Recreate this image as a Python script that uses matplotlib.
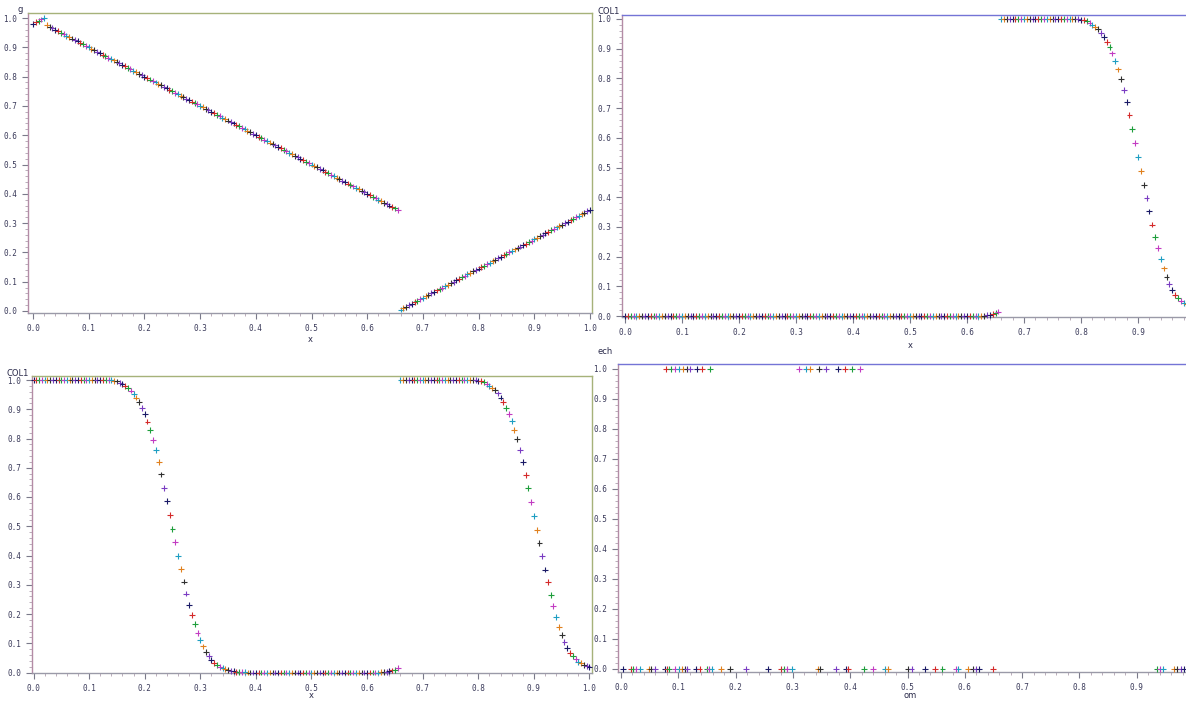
import numpy as np
import matplotlib
matplotlib.use("Agg")
import matplotlib.pyplot as plt
from matplotlib.ticker import MultipleLocator, FormatStrFormatter

# ---------------------------------------------------------------- data
# common sampling grid for the three curves (step 0.005 on [0, 1])
x_grid = np.round(np.arange(201) * 0.005, 3)

g_vals = [
    0.980, 0.985, 0.990, 0.995, 1.000,
    0.975, 0.970, 0.965, 0.960, 0.955, 0.950, 0.945, 0.940, 0.935, 0.930,
    0.925, 0.920, 0.915, 0.910, 0.905, 0.900, 0.895, 0.890, 0.885, 0.880,
    0.875, 0.870, 0.865, 0.860, 0.855, 0.850, 0.845, 0.840, 0.835, 0.830,
    0.825, 0.820, 0.815, 0.810, 0.805, 0.800, 0.795, 0.790, 0.785, 0.780,
    0.775, 0.770, 0.765, 0.760, 0.755, 0.750, 0.745, 0.740, 0.735, 0.730,
    0.725, 0.720, 0.715, 0.710, 0.705, 0.700, 0.695, 0.690, 0.685, 0.680,
    0.675, 0.670, 0.665, 0.660, 0.655, 0.650, 0.645, 0.640, 0.635, 0.630,
    0.625, 0.620, 0.615, 0.610, 0.605, 0.600, 0.595, 0.590, 0.585, 0.580,
    0.575, 0.570, 0.565, 0.560, 0.555, 0.550, 0.545, 0.540, 0.535, 0.530,
    0.525, 0.520, 0.515, 0.510, 0.505, 0.500, 0.495, 0.490, 0.485, 0.480,
    0.475, 0.470, 0.465, 0.460, 0.455, 0.450, 0.445, 0.440, 0.435, 0.430,
    0.425, 0.420, 0.415, 0.410, 0.405, 0.400, 0.395, 0.390, 0.385, 0.380,
    0.375, 0.370, 0.365, 0.360, 0.355, 0.350, 0.345,
    0.005, 0.010, 0.015, 0.020, 0.025, 0.030, 0.035, 0.040, 0.045, 0.050,
    0.055, 0.060, 0.065, 0.070, 0.075, 0.080, 0.085, 0.090, 0.095, 0.100,
    0.105, 0.110, 0.115, 0.120, 0.125, 0.130, 0.135, 0.140, 0.145, 0.150,
    0.155, 0.160, 0.165, 0.170, 0.175, 0.180, 0.185, 0.190, 0.195, 0.200,
    0.205, 0.210, 0.215, 0.220, 0.225, 0.230, 0.235, 0.240, 0.245, 0.250,
    0.255, 0.260, 0.265, 0.270, 0.275, 0.280, 0.285, 0.290, 0.295, 0.300,
    0.305, 0.310, 0.315, 0.320, 0.325, 0.330, 0.335, 0.340, 0.345,
]

col1_right = [
    0.000, 0.000, 0.000, 0.000, 0.000, 0.000, 0.000, 0.000, 0.000, 0.000,
    0.000, 0.000, 0.000, 0.000, 0.000, 0.000, 0.000, 0.000, 0.000, 0.000,
    0.000, 0.000, 0.000, 0.000, 0.000, 0.000, 0.000, 0.000, 0.000, 0.000,
    0.000, 0.000, 0.000, 0.000, 0.000, 0.000, 0.000, 0.000, 0.000, 0.000,
    0.000, 0.000, 0.000, 0.000, 0.000, 0.000, 0.000, 0.000, 0.000, 0.000,
    0.000, 0.000, 0.000, 0.000, 0.000, 0.000, 0.000, 0.000, 0.000, 0.000,
    0.000, 0.000, 0.000, 0.000, 0.000, 0.000, 0.000, 0.000, 0.000, 0.000,
    0.000, 0.000, 0.000, 0.000, 0.000, 0.000, 0.000, 0.000, 0.000, 0.000,
    0.000, 0.000, 0.000, 0.000, 0.000, 0.000, 0.000, 0.000, 0.000, 0.000,
    0.000, 0.000, 0.000, 0.000, 0.000, 0.000, 0.000, 0.000, 0.000, 0.000,
    0.000, 0.000, 0.000, 0.000, 0.000, 0.000, 0.000, 0.000, 0.000, 0.000,
    0.000, 0.000, 0.000, 0.000, 0.000, 0.000, 0.000, 0.000, 0.000, 0.000,
    0.000, 0.000, 0.000, 0.000, 0.000, 0.000,
    0.001, 0.002, 0.004, 0.006, 0.010, 0.015,
    1.000, 1.000, 1.000, 1.000, 1.000, 1.000, 1.000, 1.000, 1.000, 1.000,
    1.000, 1.000, 1.000, 1.000, 1.000, 1.000, 1.000, 1.000, 1.000, 1.000,
    1.000, 1.000, 1.000, 1.000, 1.000, 1.000, 0.999, 0.999, 0.998,
    0.996, 0.992, 0.987, 0.981, 0.974, 0.965, 0.954, 0.940, 0.924, 0.905,
    0.884, 0.859, 0.830, 0.797, 0.760, 0.720, 0.676, 0.630, 0.583, 0.535,
    0.488, 0.442, 0.397, 0.352, 0.308, 0.267, 0.228, 0.192, 0.160, 0.132,
    0.108, 0.088, 0.072, 0.060, 0.051, 0.045, 0.040, 0.036, 0.032, 0.029,
]

col1_both = [
    1.000, 1.000, 1.000, 1.000, 1.000, 1.000, 1.000, 1.000, 1.000, 1.000,
    1.000, 1.000, 1.000, 1.000, 1.000, 1.000, 1.000, 1.000, 1.000, 1.000,
    1.000, 1.000, 1.000, 1.000, 1.000, 1.000, 1.000, 1.000, 1.000,
    0.998, 0.995, 0.991, 0.986, 0.980, 0.973, 0.964, 0.953, 0.940, 0.924,
    0.905, 0.883, 0.858, 0.829, 0.796, 0.760, 0.720, 0.677, 0.632, 0.586,
    0.539, 0.492, 0.445, 0.399, 0.354, 0.311, 0.270, 0.232, 0.197, 0.165,
    0.136, 0.111, 0.089, 0.071, 0.056, 0.044, 0.034, 0.026, 0.020, 0.015,
    0.011, 0.008, 0.006, 0.004, 0.003, 0.002, 0.001, 0.001,
    0.000, 0.000, 0.000, 0.000, 0.000, 0.000, 0.000, 0.000, 0.000, 0.000,
    0.000, 0.000, 0.000, 0.000, 0.000, 0.000, 0.000, 0.000, 0.000, 0.000,
    0.000, 0.000, 0.000, 0.000, 0.000, 0.000, 0.000, 0.000, 0.000, 0.000,
    0.000, 0.000, 0.000, 0.000, 0.000, 0.000, 0.000, 0.000, 0.000, 0.000,
    0.000, 0.000, 0.000, 0.000, 0.000, 0.000, 0.000, 0.000,
    0.001, 0.002, 0.003, 0.005, 0.007, 0.010, 0.014,
    1.000, 1.000, 1.000, 1.000, 1.000, 1.000, 1.000, 1.000, 1.000, 1.000,
    1.000, 1.000, 1.000, 1.000, 1.000, 1.000, 1.000, 1.000, 1.000, 1.000,
    1.000, 1.000, 1.000, 1.000, 1.000, 1.000, 0.999, 0.999, 0.998,
    0.996, 0.992, 0.987, 0.981, 0.974, 0.965, 0.954, 0.940, 0.924, 0.905,
    0.884, 0.859, 0.830, 0.797, 0.760, 0.720, 0.676, 0.630, 0.583, 0.535,
    0.488, 0.442, 0.397, 0.352, 0.308, 0.266, 0.226, 0.190, 0.157, 0.128,
    0.103, 0.083, 0.067, 0.055, 0.045, 0.037, 0.031, 0.026, 0.022, 0.019,
]

om_zero = [
    0.004, 0.017, 0.021, 0.027, 0.034, 0.048, 0.052, 0.059, 0.077, 0.081,
    0.084, 0.094, 0.102, 0.106, 0.111, 0.115, 0.131, 0.137, 0.150, 0.154,
    0.158, 0.174, 0.190, 0.218, 0.256, 0.279, 0.284, 0.290, 0.298, 0.343,
    0.347, 0.375, 0.393, 0.397, 0.424, 0.440, 0.461, 0.466, 0.501, 0.507,
    0.531, 0.548, 0.561, 0.584, 0.589, 0.606, 0.614, 0.620, 0.625, 0.649,
    0.935, 0.941, 0.946, 0.965, 0.970, 0.977, 0.982,
]
om_one = [
    0.079, 0.087, 0.094, 0.101, 0.108, 0.115, 0.120, 0.133, 0.141, 0.155,
    0.311, 0.323, 0.330, 0.346, 0.358, 0.379, 0.391, 0.403, 0.417,
]
om_vals = om_zero + om_one
ech_vals = [0.0] * len(om_zero) + [1.0] * len(om_one)

tick_values = [0.0, 0.1, 0.2, 0.3, 0.4, 0.5, 0.6, 0.7, 0.8, 0.9, 1.0]

# ---------------------------------------------------------------- style
W, H = 1186, 702
fig = plt.figure(figsize=(W / 100, H / 100), dpi=100)
fig.patch.set_facecolor("white")

marker_cycle = ["#1a1a66", "#d42a2a", "#1e9e3c", "#c23cc2",
                "#1e9ec2", "#e0801e", "#303030", "#7a3cc2"]
label_font = dict(family="DejaVu Sans Mono", size=5.5, color="#3a3a5a")


def panel(box, x0px, xscale, y0px, yscale, top_color, side_color, right=True):
    """Axes placed by pixel box; data 0 sits at x0px / y0px."""
    l, t, r, b = box
    ax = fig.add_axes([l / W, 1 - b / H, (r - l) / W, (b - t) / H])
    ax.set_xticks(tick_values)
    ax.set_yticks(tick_values)
    # limits after the ticks so that set_xticks cannot widen the view
    ax.set_xlim((l - x0px) / xscale, (r - x0px) / xscale)
    ax.set_ylim((y0px - b) / yscale, (y0px - t) / yscale)
    ax.spines["top"].set_color(top_color)
    ax.spines["right"].set_color(top_color)
    ax.spines["left"].set_color(side_color)
    ax.spines["bottom"].set_color("#9a9aa8")
    for s in ax.spines.values():
        s.set_linewidth(1.0)
    ax.spines["right"].set_visible(right)
    ax.xaxis.set_minor_locator(MultipleLocator(0.02))
    ax.yaxis.set_minor_locator(MultipleLocator(0.02))
    ax.xaxis.set_major_formatter(FormatStrFormatter("%.1f"))
    ax.yaxis.set_major_formatter(FormatStrFormatter("%.1f"))
    ax.tick_params(which="major", length=4, width=0.8, color="#7a7a8a",
                   pad=4)
    ax.tick_params(which="minor", length=2, width=0.6, color="#b0a0b0")
    for lab in ax.get_xticklabels() + ax.get_yticklabels():
        lab.set_fontfamily(label_font["family"])
        lab.set_fontsize(label_font["size"])
        lab.set_color(label_font["color"])
    ax.set_facecolor("white")
    return ax


def plus_marks(ax, xs, ys):
    cols = [marker_cycle[i % len(marker_cycle)] for i in range(len(xs))]
    ax.scatter(xs, ys, marker="+", s=18, linewidths=0.8, c=cols,
               clip_on=False, zorder=3)


def fig_text(px, py, s):
    fig.text(px / W, 1 - py / H, s, ha="center", va="center",
             fontfamily="DejaVu Sans", fontsize=6, color="#2a2a4a")


# top-left: g against x
ax1 = panel((28, 13, 592, 313), 33, 557, 311, 293, "#a6b27a", "#b48ca6")
plus_marks(ax1, x_grid, g_vals)
fig_text(20, 9, "g")
fig_text(310, 340, "x")

# top-right: COL1 against x (axis runs off the right edge)
ax2 = panel((622, 15, 1186, 317), 625, 570, 316, 297, "#7474d6", "#b48ca6",
            right=False)
plus_marks(ax2, x_grid, col1_right)
fig_text(609, 12, "COL1")
fig_text(910, 346, "x")

# bottom-left: COL1 against x
ax3 = panel((32, 376, 592, 673), 33.5, 556, 672.5, 292.5, "#a6b27a",
            "#b48ca6")
plus_marks(ax3, x_grid, col1_both)
fig_text(18, 373, "COL1")
fig_text(311, 696, "x")

# bottom-right: ech against om (axis runs off the right edge)
ax4 = panel((618, 364, 1186, 672), 621, 573, 669, 300, "#7474d6", "#b48ca6",
            right=False)
plus_marks(ax4, om_vals, ech_vals)
fig_text(605, 352, "ech")
fig_text(910, 696, "om")

fig.savefig("out.png", dpi=100, facecolor="white")
